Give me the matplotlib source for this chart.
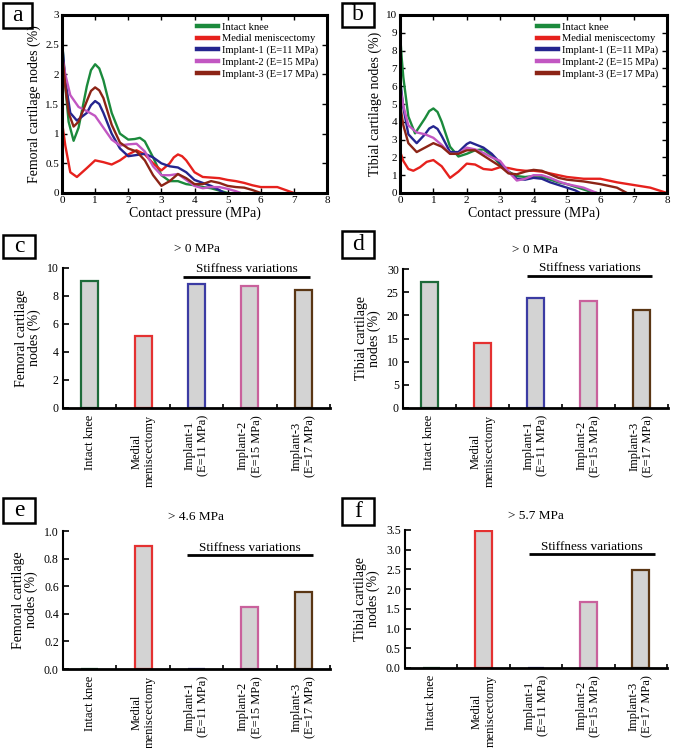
import matplotlib
matplotlib.use("Agg")
import matplotlib.pyplot as plt
from matplotlib.ticker import FixedLocator

plt.rcParams['font.family'] = ['Liberation Serif', 'DejaVu Serif']

# ---------------- data ----------------
series_names = ["Intact knee", "Medial meniscectomy", "Implant-1 (E=11 MPa)",
                "Implant-2 (E=15 MPa)", "Implant-3 (E=17 MPa)"]
line_colors = ['#1b8a3c', '#e6211d', '#25258f', '#c257c2', '#8c2416']

# Panel a: femoral cartilage nodes (%) vs contact pressure (MPa)
a_intact_x = [0, 0.05, 0.1, 0.2, 0.35, 0.5, 0.625, 0.75, 0.875, 1.0, 1.125, 1.25, 1.375, 1.5, 1.75, 2.0, 2.2, 2.35, 2.5, 2.75, 3.0, 3.25, 3.5, 3.75, 4.0, 4.25, 4.5, 4.75, 5.0]
a_intact_y = [2.6, 2.2, 1.8, 1.2, 0.88, 1.1, 1.45, 1.8, 2.07, 2.17, 2.1, 1.9, 1.62, 1.35, 1.0, 0.9, 0.91, 0.93, 0.87, 0.6, 0.3, 0.2, 0.2, 0.15, 0.13, 0.1, 0.08, 0.04, 0.0]
a_medial_x = [0, 0.1, 0.25, 0.45, 0.75, 1.0, 1.25, 1.5, 1.75, 2.0, 2.25, 2.5, 2.75, 3.0, 3.25, 3.375, 3.5, 3.625, 3.75, 4.0, 4.25, 4.5, 4.75, 5.0, 5.25, 5.5, 5.75, 6.0, 6.25, 6.5, 6.75, 7.0]
a_medial_y = [1.2, 0.8, 0.35, 0.27, 0.42, 0.55, 0.52, 0.48, 0.55, 0.65, 0.72, 0.65, 0.5, 0.38, 0.5, 0.6, 0.65, 0.62, 0.55, 0.35, 0.27, 0.26, 0.25, 0.22, 0.2, 0.17, 0.13, 0.1, 0.1, 0.1, 0.05, 0.0]
a_imp1_x = [0, 0.1, 0.25, 0.45, 0.75, 0.875, 1.0, 1.125, 1.25, 1.5, 1.75, 2.0, 2.25, 2.5, 2.75, 3.0, 3.25, 3.5, 3.75, 4.0, 4.25, 4.5, 4.75, 4.9]
a_imp1_y = [2.55, 1.9, 1.35, 1.22, 1.35, 1.48, 1.55, 1.5, 1.35, 1.0, 0.75, 0.62, 0.64, 0.66, 0.6, 0.5, 0.45, 0.43, 0.35, 0.22, 0.17, 0.12, 0.05, 0.0]
a_imp2_x = [0, 0.1, 0.25, 0.5, 0.75, 1.0, 1.25, 1.5, 1.75, 2.0, 2.25, 2.5, 2.75, 3.0, 3.25, 3.5, 3.75, 4.0, 4.25, 4.5, 4.75, 5.0, 5.25, 5.4]
a_imp2_y = [2.3, 2.0, 1.65, 1.45, 1.38, 1.3, 1.1, 0.9, 0.8, 0.82, 0.83, 0.7, 0.45, 0.3, 0.3, 0.32, 0.22, 0.12, 0.08, 0.1, 0.1, 0.07, 0.03, 0.0]
a_imp3_x = [0, 0.1, 0.2, 0.35, 0.5, 0.75, 0.875, 1.0, 1.125, 1.25, 1.5, 1.75, 2.0, 2.25, 2.5, 2.75, 3.0, 3.25, 3.5, 3.75, 4.0, 4.25, 4.5, 4.75, 5.0, 5.25, 5.5, 5.75, 6.0]
a_imp3_y = [2.4, 1.8, 1.35, 1.12, 1.2, 1.55, 1.72, 1.78, 1.73, 1.6, 1.15, 0.85, 0.75, 0.7, 0.55, 0.3, 0.12, 0.2, 0.32, 0.25, 0.15, 0.15, 0.2, 0.17, 0.12, 0.1, 0.09, 0.05, 0.0]

# Panel b: tibial cartilage nodes (%) vs contact pressure (MPa)
b_intact_x = [0, 0.05, 0.1, 0.25, 0.45, 0.75, 0.875, 1.0, 1.125, 1.25, 1.5, 1.75, 2.0, 2.25, 2.5, 2.75, 3.0, 3.25, 3.5, 3.75, 4.0, 4.25, 4.5, 4.75, 5.0, 5.25, 5.5, 5.75, 5.9]
b_intact_y = [9.0, 7.6, 6.5, 4.3, 3.35, 4.2, 4.6, 4.75, 4.55, 4.0, 2.6, 2.05, 2.2, 2.4, 2.45, 2.1, 1.6, 1.2, 0.95, 0.9, 0.95, 0.9, 0.75, 0.6, 0.5, 0.35, 0.2, 0.05, 0.0]
b_medial_x = [0, 0.1, 0.25, 0.4, 0.6, 0.8, 1.0, 1.25, 1.5, 1.75, 2.0, 2.25, 2.5, 2.75, 3.0, 3.25, 3.5, 3.75, 4.0, 4.25, 4.5, 4.75, 5.0, 5.5, 6.0, 6.5, 7.0, 7.5, 7.75, 8.0]
b_medial_y = [2.35, 1.8, 1.35, 1.25, 1.45, 1.75, 1.85, 1.5, 0.85, 1.2, 1.65, 1.6, 1.35, 1.3, 1.45, 1.4, 1.3, 1.25, 1.25, 1.2, 1.1, 1.0, 0.9, 0.8, 0.8, 0.6, 0.45, 0.3, 0.15, 0.0]
b_imp1_x = [0, 0.05, 0.1, 0.25, 0.5, 0.75, 0.875, 1.0, 1.125, 1.25, 1.5, 1.75, 2.0, 2.1, 2.5, 2.75, 3.0, 3.25, 3.5, 3.75, 4.0, 4.25, 4.5, 4.75, 5.0, 5.25, 5.4]
b_imp1_y = [6.5, 5.6, 4.8, 3.3, 2.8, 3.3, 3.62, 3.75, 3.6, 3.2, 2.3, 2.3, 2.75, 2.85, 2.55, 2.2, 1.7, 1.2, 0.8, 0.75, 0.85, 0.8, 0.6, 0.45, 0.3, 0.15, 0.0]
b_imp2_x = [0, 0.1, 0.25, 0.5, 0.75, 1.0, 1.25, 1.5, 1.75, 2.0, 2.25, 2.5, 2.75, 3.0, 3.25, 3.5, 3.75, 4.0, 4.25, 4.5, 4.75, 5.0, 5.5, 5.9]
b_imp2_y = [6.0, 4.9, 3.8, 3.4, 3.3, 3.1, 2.7, 2.2, 2.2, 2.55, 2.45, 2.25, 2.0, 1.8, 1.2, 0.7, 0.8, 1.0, 1.0, 0.85, 0.65, 0.5, 0.3, 0.0]
b_imp3_x = [0, 0.1, 0.25, 0.5, 0.75, 1.0, 1.25, 1.5, 1.75, 2.0, 2.25, 2.5, 2.75, 3.0, 3.25, 3.5, 3.75, 4.0, 4.25, 4.5, 4.75, 5.0, 5.5, 6.0, 6.5, 6.8]
b_imp3_y = [5.0, 3.8, 2.8, 2.3, 2.55, 2.8, 2.6, 2.2, 2.2, 2.4, 2.4, 2.1, 1.8, 1.5, 1.1, 1.05, 1.2, 1.3, 1.25, 1.05, 0.85, 0.75, 0.65, 0.5, 0.3, 0.0]

# Bar panels
bar_categories = ["Intact knee", "Medial\nmeniscectomy", "Implant-1\n(E=11 MPa)",
                  "Implant-2\n(E=15 MPa)", "Implant-3\n(E=17 MPa)"]
c_values = [9.1, 5.15, 8.85, 8.7, 8.4]      # femoral, > 0 MPa
d_values = [27.3, 14.1, 23.7, 23.0, 21.1]   # tibial, > 0 MPa
e_values = [0.0, 0.89, 0.0, 0.45, 0.56]     # femoral, > 4.6 MPa
f_values = [0.0, 3.47, 0.0, 1.67, 2.48]     # tibial, > 5.7 MPa
bar_edge_colors = ['#1e6b3a', '#e43131', '#3b3ba3', '#c9619c', '#5a3614']
bar_fill = '#d3d3d3'

W, H = 675, 748
fig = plt.figure(figsize=(W / 100, H / 100), dpi=100)


def ax_px(l, r, t, b):
    return fig.add_axes([l / W, 1 - b / H, (r - l) / W, (b - t) / H])


def letter(x0, y0, x1, y1, s):
    fig.patches.append(plt.Rectangle((x0 / W, 1 - y1 / H), (x1 - x0) / W, (y1 - y0) / H,
                                     transform=fig.transFigure, fill=False,
                                     edgecolor='black', linewidth=1.8))
    fig.text((x0 + x1) / 2 / W, 1 - (y0 + y1) / 2 / H, s, ha='center', va='center',
             fontsize=17)


def line_panel(ax, curves, ymax, ystep, ylabel, yticklabels):
    for (xs, ys), c, n in zip(curves, line_colors, series_names):
        ax.plot(xs, ys, color=c, lw=1.7, label=n, solid_joinstyle='round')
    ax.set_xlim(0, 8)
    ax.set_ylim(0, ymax)
    ax.set_xticks(range(0, 9))
    ax.set_xticklabels([str(i) for i in range(9)], fontsize=8)
    yt = [i * ystep for i in range(len(yticklabels))]
    ax.set_yticks(yt)
    ax.set_yticklabels(yticklabels, fontsize=8)
    ax.tick_params(direction='in', top=True, right=True, length=3.5, width=1.0, pad=2)
    for sp in ax.spines.values():
        sp.set_linewidth(2.2)
    ax.set_xlabel("Contact pressure (MPa)", fontsize=10, labelpad=1)
    ax.set_ylabel(ylabel, fontsize=10, labelpad=3)


# ---- panel a ----
axa = ax_px(62, 327, 15, 193)
line_panel(axa, [(a_intact_x, a_intact_y), (a_medial_x, a_medial_y), (a_imp1_x, a_imp1_y),
                 (a_imp2_x, a_imp2_y), (a_imp3_x, a_imp3_y)],
           3, 0.5, "Femoral cartilage nodes (%)", ["0", "0.5", "1", "1.5", "2", "2.5", "3"])
leg = axa.legend(loc='upper left', bbox_to_anchor=(0.51, 0.96), frameon=False, fontsize=7.6,
                 handlelength=2.0, handletextpad=0.4, labelspacing=0.22, borderpad=0,
                 borderaxespad=0)
for h in leg.legend_handles:
    h.set_linewidth(3.2)

# ---- panel b ----
axb = ax_px(400, 667, 15, 193)
line_panel(axb, [(b_intact_x, b_intact_y), (b_medial_x, b_medial_y), (b_imp1_x, b_imp1_y),
                 (b_imp2_x, b_imp2_y), (b_imp3_x, b_imp3_y)],
           10, 1, "Tibial cartilage nodes (%)", [str(i) for i in range(11)])
leg = axb.legend(loc='upper left', bbox_to_anchor=(0.513, 0.96), frameon=False, fontsize=7.6,
                 handlelength=2.0, handletextpad=0.4, labelspacing=0.22, borderpad=0,
                 borderaxespad=0)
for h in leg.legend_handles:
    h.set_linewidth(3.2)


def bar_panel(ax, values, ymax, ystep, yfmt, ylabel, title, title_y, line_y, text_y, lx0, lx1):
    xs = list(range(len(values)))
    ax.bar(xs, values, width=0.32, color=bar_fill, edgecolor=bar_edge_colors, linewidth=1.6,
           zorder=2)
    ax.set_xlim(-0.5, 4.5)
    ax.set_ylim(0, ymax)
    for side in ('top', 'right'):
        ax.spines[side].set_visible(False)
    ax.spines['bottom'].set_linewidth(2.0)
    ax.spines['left'].set_linewidth(1.5)
    ax.set_xticks(xs)
    ax.set_xticklabels(bar_categories, rotation=90, fontsize=9, ha='center', va='top',
                       multialignment='center')
    ax.tick_params(axis='x', which='major', length=0, pad=5)
    ax.xaxis.set_minor_locator(FixedLocator([0.5, 1.5, 2.5, 3.5, 4.5]))
    ax.tick_params(axis='x', which='minor', direction='in', length=3, width=1.2)
    n = int(round(ymax / ystep))
    yt = [i * ystep for i in range(n + 1)]
    ax.set_yticks(yt)
    ax.set_yticklabels([yfmt.format(v) for v in yt], fontsize=8.5)
    ax.tick_params(axis='y', direction='in', length=4, width=1.2, pad=3)
    ax.set_ylabel(ylabel, fontsize=10, labelpad=4, linespacing=1.0)
    ax.text(0.5, title_y, title, transform=ax.transAxes, ha='center', va='center', fontsize=9.5)
    ax.plot([lx0, lx1], [line_y, line_y], color='black', lw=2.0,
            transform=ax.get_xaxis_transform(), clip_on=False, solid_capstyle='butt')
    ax.text((lx0 + lx1) / 2, text_y, "Stiffness variations", transform=ax.get_xaxis_transform(),
            ha='center', va='center', fontsize=9.5)


axc = ax_px(63, 330, 268, 408)
bar_panel(axc, c_values, 10, 2, "{:.0f}", "Femoral cartilage\nnodes (%)", "> 0 MPa",
          1.136, 0.936, 0.99, 1.75, 4.13)
axd = ax_px(403, 668, 269, 408)
bar_panel(axd, d_values, 30, 5, "{:.0f}", "Tibial cartilage\nnodes (%)", "> 0 MPa",
          1.14, 0.95, 1.005, 1.84, 4.2)
axe = ax_px(63, 330, 531, 669)
bar_panel(axe, e_values, 1.0, 0.2, "{:.1f}", "Femoral cartilage\nnodes (%)", "> 4.6 MPa",
          1.10, 0.826, 0.877, 1.82, 4.18)
axf = ax_px(405, 667, 530, 668)
bar_panel(axf, f_values, 3.5, 0.5, "{:.1f}", "Tibial cartilage\nnodes (%)", "> 5.7 MPa",
          1.10, 0.826, 0.877, 1.87, 4.27)

letter(3, 3, 32, 28, "a")
letter(342, 3, 374, 27, "b")
letter(3, 235, 35, 258, "c")
letter(342, 231, 374, 258, "d")
letter(3, 498, 35, 523, "e")
letter(342, 498, 374, 525, "f")

fig.savefig("out.png", dpi=100)
